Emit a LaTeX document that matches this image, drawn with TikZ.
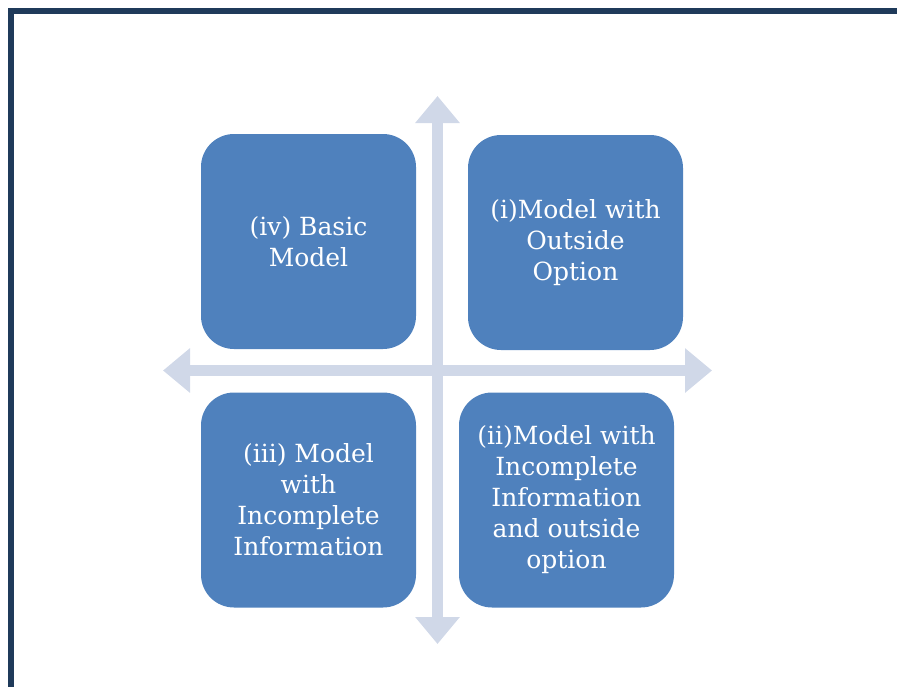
\documentclass[tikz,border=0pt]{standalone}
\usepackage{fontspec}
\setmainfont{DejaVu Serif}
\usetikzlibrary{arrows.meta}
\definecolor{boxblue}{HTML}{4F81BD}
\definecolor{crossgray}{HTML}{D0D8E8}
\definecolor{framenavy}{HTML}{1F3A5A}
\begin{document}
\begin{tikzpicture}[x=1pt,y=-1pt,
  quad/.style={fill=boxblue,draw=none,rounded corners=33pt,minimum width=215pt,minimum height=215pt,
    inner sep=0pt,text=white,align=center,font=\fontsize{25}{31}\selectfont},
  crossarrow/.style={draw=crossgray,line width=11pt,{Triangle[width=43pt,length=27pt]}-{Triangle[width=43pt,length=27pt]}}]
\useasboundingbox (0,0) rectangle (897,686);
\draw[framenavy,line width=5.5pt,line join=miter] (10.8,690) -- (10.8,10.8) -- (900,10.8);
\coordinate (up) at (437.5,96);
\coordinate (down) at (437.5,644);
\coordinate (left) at (163,370.5);
\coordinate (right) at (712,370.5);
\draw[crossarrow] (down) -- (up);
\draw[crossarrow] (left) -- (right);
\node[quad] (basic) at (308.5,241.5) {(iv) Basic\\Model};
\node[quad] (outside) at (575.5,242.5) {(i)Model with\\Outside\\Option};
\node[quad] (incomplete) at (308.5,500) {(iii) Model\\with\\Incomplete\\Information};
\node[quad] (both) at (566.5,500) {(ii)Model with\\Incomplete\\Information\\and outside\\option};
\end{tikzpicture}
\end{document}
